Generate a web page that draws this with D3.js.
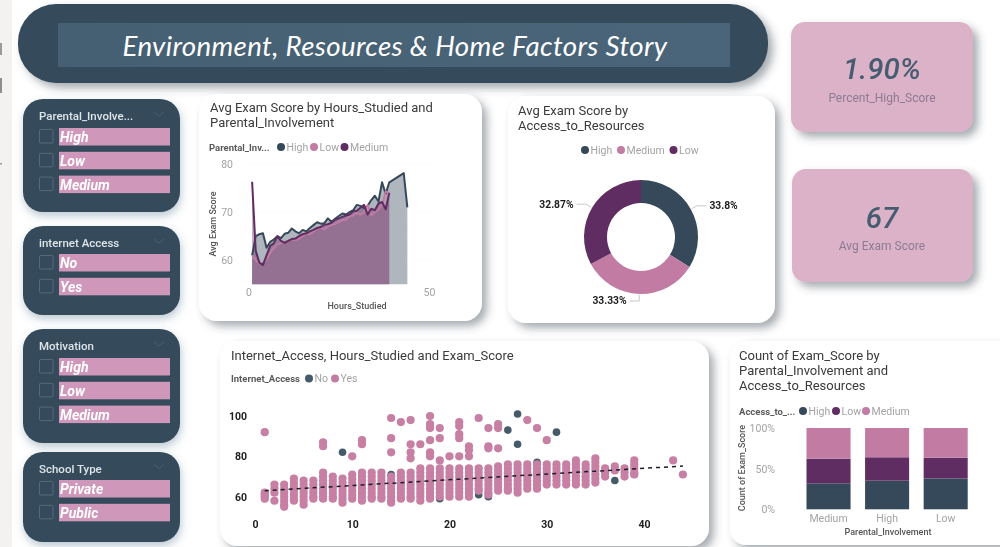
<!DOCTYPE html>
<html><head><meta charset="utf-8">
<script src="https://cdn.jsdelivr.net/npm/d3@7/dist/d3.min.js"></script>
<style>html,body{margin:0;padding:0;background:#fff;overflow:hidden}svg{display:block;filter:blur(.35px)}text{font-family:Roboto,sans-serif}</style>
</head><body><svg id="c" width="1000" height="547"></svg>
<script>
// ---------- data ----------
const dashTitle = "Environment, Resources & Home Factors Story";
const slicerTitles = ["Parental_Involve...", "internet Access", "Motivation", "School Type"];
const slicerItems = [["High","Low","Medium"],["No","Yes"],["High","Low","Medium"],["Private","Public"]];
const kpiValues = ["1.90%","67"];
const kpiLabels = ["Percent_High_Score","Avg Exam Score"];

const hours = [1,2,3,4,5,6,7,8,9,10,11,12,13,14,15,16,17,18,19,20,21,22,23,24,25,26,27,28,29,30,31,32,33,34,35,36,37,38,39,43,44];
const avgHigh = [61,65,65.4,65.6,62.6,63.8,64.3,65,64.6,65.5,65.7,66.6,66,65.6,66.3,66,66.7,67.3,67.9,67.6,67.7,68.7,68,68.6,69.2,69.7,69.5,70,70.4,71.5,71.3,70.8,71.3,72.5,73.4,72.2,76.2,73.8,76.2,78.1,71];
const hoursLow = hours.slice(0,39);
const avgLow = [61,60,59.3,59.4,60.2,61.5,62.5,63.3,63.6,63.8,64,64.3,64.2,64.5,65,65.5,65.4,66,66.5,66.8,66.4,67,67.3,67.5,68,68.3,68.4,69.2,69.3,69.8,69.5,69.9,71.5,69.3,70,70.5,71.5,74.3,74];
const avgMedium = [76.3,62,59.5,59,61,63,63.5,65,64,63.6,64,64.4,64.5,65,65.4,65.6,66,66.3,66.7,66.9,67.4,67.5,67.8,68.4,68.7,69,69.3,69.5,70.2,70.3,70.9,71.5,69.5,70.7,70.4,71.8,72.1,70.6,74];

const resourceNames = ["High","Medium","Low"];
const resourceShares = [33.8,33.33,32.87];

const scatterHoursNo = [9,14,19,23,24,26,27,27,29,31,37,39];
const scatterScoresNo = [82,71,59,61,60,93,101,86,77,92,68,71];
const scatterYes = [
 [1,[92,62,61,60,59]],
 [2,[66,64,62,58]],
 [3,[66,64,62,60,58,56,55]],
 [4,[69,67,65,63,61,59,58]],
 [5,[68,66,64,62,60,58,56]],
 [6,[68,66,64,62,60,59]],
 [7,[87,85,72,70,68,66,64,62,60,59]],
 [8,[70,68,66,64,62,60,59]],
 [9,[69,67,65,63,61,59,57]],
 [10,[80,71,69,67,65,63,61,59]],
 [11,[88,86,72,70,68,66,64,62,60,58]],
 [12,[72,70,68,66,64,62,60,59]],
 [13,[72,70,68,66,64,62,60,59]],
 [14,[99,89,82,70,68,66,64,62,60,58,57]],
 [15,[97,72,70,68,66,64,62,60,59]],
 [16,[98,86,82,79,72,70,68,66,64,62,60,59]],
 [17,[86,74,72,70,68,66,64,62,60,58]],
 [18,[100,96,94,88,82,80,74,72,70,68,66,64,62,60,59]],
 [19,[94,89,78,74,72,70,68,66,64,62,60]],
 [20,[80,74,72,70,68,66,64,62,60]],
 [21,[97,95,91,89,80,74,72,70,68,66,64,62,60]],
 [22,[85,83,80,74,72,70,68,66,64,62,60]],
 [23,[99,74,72,70,68,66,64,63]],
 [24,[94,85,84,74,72,70,68,66,64,62,61]],
 [25,[96,94,84,75,73,71,69,67,65,63]],
 [26,[76,74,72,70,68,66,64,63]],
 [27,[76,74,72,70,68,66,64,62]],
 [28,[98,76,74,72,70,68,66,64]],
 [29,[94,76,74,72,70,68,66,64]],
 [30,[88,76,74,72,70,68,66]],
 [31,[76,74,72,70,68,66]],
 [32,[76,74,72,70,68,66]],
 [33,[78,76,74,72,70,68,66]],
 [34,[76,74,72,70,68,66]],
 [35,[79,77,75,73,71,69,67]],
 [36,[74,72,70]],
 [37,[75,73]],
 [38,[74,72,70]],
 [39,[78,76,74,72,71]],
 [43,[78]],
 [44,[71]]
];
const trendHours = [1,44];
const trendScores = [63,75.2];

const barCategories = ["Medium","High","Low"];
const barKeys = ["High","Low","Medium"];
const barHigh = [32,35.2,38];
const barLow = [30.3,28.8,25.5];
const barMedium = [37.7,36,36.5];

// ---------- style and layout ----------
const dark="#36495a", pink="#c27ca3", purple="#602d62", scatterDark="#465b6a", pinkDot="#c77fa4";
const svg=d3.select("#c");
const defs=svg.append("defs");
const sh=defs.append("filter").attr("id","sh").attr("x","-20%").attr("y","-20%").attr("width","150%").attr("height","150%");
sh.append("feDropShadow").attr("dx",5).attr("dy",5).attr("stdDeviation",4).attr("flood-color","#3a4650").attr("flood-opacity",.45);
const sh2=defs.append("filter").attr("id","sh2").attr("x","-20%").attr("y","-20%").attr("width","150%").attr("height","150%");
sh2.append("feDropShadow").attr("dx",1).attr("dy",4).attr("stdDeviation",4).attr("flood-color","#56788f").attr("flood-opacity",.4);
const grad=defs.append("linearGradient").attr("id","tg");
grad.append("stop").attr("offset","0").attr("stop-color","#466073");
grad.append("stop").attr("offset","1").attr("stop-color","#4a6479");
const T=(x,y,s,o={})=>{const t=svg.append("text").attr("x",x).attr("y",y).text(s).attr("dominant-baseline","central")
  .attr("font-size",o.size||10).attr("fill",o.fill||"#999").attr("text-anchor",o.anchor||"start");
  if(o.weight)t.attr("font-weight",o.weight); if(o.italic)t.attr("font-style","italic");
  if(o.ls)t.attr("letter-spacing",o.ls); if(o.family)t.style("font-family",o.family);
  if(o.rot)t.attr("transform",`rotate(${o.rot} ${x} ${y})`); return t;};
const card=(x,y,w,h,r,f,fl="sh")=>svg.append("rect").attr("x",x).attr("y",y).attr("width",w).attr("height",h).attr("rx",r).attr("fill",f).attr("filter",`url(#${fl})`);
const legend=(items)=>items.forEach(d=>{svg.append("circle").attr("cx",d[0]).attr("cy",d[1]).attr("r",4).attr("fill",d[2]);
  T(d[0]+5.5,d[1],d[3],{size:10.5,fill:"#a3a3a3"});});
const styleAxis=(g,size,fill,weight)=>{g.select(".domain").remove();g.selectAll("line").remove();
  g.selectAll("text").attr("font-size",size).attr("fill",fill).attr("font-weight",weight||400).style("font-family","Roboto,sans-serif");};

// left strip
svg.append("rect").attr("width",12).attr("height",547).attr("fill","#f3f2f1");
svg.append("rect").attr("y",43).attr("width",2).attr("height",12).attr("fill","#9a9a9a");
svg.append("rect").attr("y",78).attr("width",2).attr("height",15).attr("fill","#8f8f8f");
svg.append("rect").attr("y",163).attr("width",2).attr("height",1.5).attr("fill","#999");

// title
card(18,4,750,79,38,"#354b5b");
svg.append("rect").attr("x",58).attr("y",23).attr("width",672).attr("height",44).attr("fill","url(#tg)");
T(395,45,dashTitle,{size:27.7,fill:"#fff",anchor:"middle",italic:true,family:"Lato,sans-serif",ls:.35});

// slicers
const slicerBoxes=[[99,113],[226,89],[329,114],[452,90]];
const slicerTops=[128,254,358,480];
const slicerHead=[116,243,346,468.5];
slicerTitles.forEach((t,i)=>{
  const [y,h]=slicerBoxes[i];
  card(23,y,157,h,20,"#354b5b","sh2");
  T(39,slicerHead[i],t,{size:11.5,fill:"#dfe5e9",weight:500});
  const cy=slicerHead[i]-2;
  svg.append("path").attr("d",`M154,${cy-2}L159,${cy+2}L164,${cy-2}`).attr("fill","none").attr("stroke","#4b6070").attr("stroke-width",1);
  slicerItems[i].forEach((s,j)=>{
    const top=slicerTops[i]+j*23.8;
    svg.append("rect").attr("x",39.5).attr("y",top+1.5).attr("width",13.5).attr("height",13.5).attr("rx",1).attr("fill","none").attr("stroke","#55697a").attr("stroke-width",1);
    svg.append("rect").attr("x",59).attr("y",top).attr("width",111).attr("height",17.5).attr("fill","#cf97b9");
    T(60,top+9,s,{size:14,fill:"#fff",weight:700,italic:true});
  });
});

// KPI
[[791,22,182,110],[792,169,181,113]].forEach((b,i)=>{
  card(b[0],b[1],b[2],b[3],14,"#dcb2c9");
  T(882,i?218:69,kpiValues[i],{size:29.5,fill:"#465c70",weight:500,italic:true,anchor:"middle"});
  T(882,i?246:98,kpiLabels[i],{size:12,fill:"#8c7b92",anchor:"middle"});
});

// ---------- area / line chart ----------
card(199,94,283,227,18,"#fff");
T(210,107,"Avg Exam Score by Hours_Studied and",{size:13,fill:"#3a3a3a"});
T(210,122,"Parental_Involvement",{size:13,fill:"#3a3a3a"});
T(209,147,"Parental_Inv...",{size:9.5,fill:"#5a5a5a",weight:700});
legend([[281,147,dark,"High"],[314,147,pink,"Low"],[344.5,147,purple,"Medium"]]);
const x1=d3.scaleLinear().domain([0,50]).range([248.5,429]);
const y1=d3.scaleLinear().domain([55,80]).range([284.3,164]);
[60,70,80].forEach(v=>svg.append("line").attr("x1",248).attr("x2",430).attr("y1",y1(v)).attr("y2",y1(v)).attr("stroke","#f4f4f4").attr("stroke-dasharray","1 3"));
const area1=d3.area().x(d=>x1(d[0])).y0(y1(55)).y1(d=>y1(d[1]));
const line1=d3.line().x(d=>x1(d[0])).y(d=>y1(d[1]));
const seriesChart=[[d3.zip(hours,avgHigh),dark],[d3.zip(hoursLow,avgLow),pink],[d3.zip(hoursLow,avgMedium),purple]];
seriesChart.forEach(s=>svg.append("path").attr("d",area1(s[0])).attr("fill",s[1]).attr("fill-opacity",.4));
seriesChart.forEach(s=>svg.append("path").attr("d",line1(s[0])).attr("fill","none").attr("stroke",s[1]).attr("stroke-width",2).attr("stroke-linejoin","round"));
styleAxis(svg.append("g").attr("transform","translate(0,284.3)").call(d3.axisBottom(x1).tickValues([0,50]).tickSize(0).tickPadding(4)),10.5,"#a3a3a3");
styleAxis(svg.append("g").attr("transform","translate(233,0)").call(d3.axisLeft(y1).tickValues([60,70,80]).tickSize(0).tickPadding(0)),10.5,"#a3a3a3");
T(213,224,"Avg Exam Score",{size:9,fill:"#555",weight:500,anchor:"middle",rot:-90});
T(357,306,"Hours_Studied",{size:9,fill:"#555",weight:500,anchor:"middle"});

// ---------- donut ----------
card(508,96,267,227,18,"#fff");
T(518,110,"Avg Exam Score by",{size:13,fill:"#3a3a3a"});
T(518,125,"Access_to_Resources",{size:13,fill:"#3a3a3a"});
legend([[585,150,dark,"High"],[621,150,pink,"Medium"],[673.5,150,purple,"Low"]]);
const donutColor=d3.scaleOrdinal().domain(resourceNames).range([dark,pink,purple]);
const pie=d3.pie().sort(null).value(d=>d[1])(d3.zip(resourceNames,resourceShares));
const arc=d3.arc().innerRadius(34).outerRadius(57);
const dg=svg.append("g").attr("transform","translate(641,237)");
dg.selectAll("path").data(pie).join("path").attr("d",arc).attr("fill",d=>donutColor(d.data[0]));
pie.forEach(d=>{
  const a=(d.startAngle+d.endAngle)/2, dir=Math.sin(a)>=0.05?1:-1;
  const px=r=>[r*Math.sin(a),-r*Math.cos(a)];
  const p0=px(58),p1=px(64),p2=[p1[0]+dir*9.5,p1[1]];
  dg.append("path").attr("d",d3.line()([p0,p1,p2])).attr("fill","none").attr("stroke","#c8c8c8").attr("stroke-width",1);
  dg.append("text").attr("x",p2[0]+dir*3).attr("y",p2[1]).text(d.data[1]+"%").attr("dominant-baseline","central")
    .attr("text-anchor",dir>0?"start":"end").attr("font-size",10.3).attr("font-weight",700).attr("fill","#1d1d1d");
});

// ---------- scatter ----------
card(220,341,489,205,18,"#fff");
T(231,355,"Internet_Access, Hours_Studied and Exam_Score",{size:13,fill:"#3a3a3a"});
T(231,378.5,"Internet_Access",{size:9.5,fill:"#5a5a5a",weight:700});
legend([[309,378.5,scatterDark,"No"],[335,378.5,pink,"Yes"]]);
const x2=d3.scaleLinear().domain([0,40]).range([255,644]);
const y2=d3.scaleLinear().domain([60,100]).range([496.7,416]);
d3.zip(scatterHoursNo,scatterScoresNo).forEach(d=>svg.append("circle").attr("cx",x2(d[0])).attr("cy",y2(d[1])).attr("r",3.8).attr("fill",scatterDark));
scatterYes.forEach(([h,scores])=>svg.append("g").selectAll("circle").data(scores).join("circle")
  .attr("cx",x2(h)).attr("cy",d=>y2(d)).attr("r",4.1).attr("fill",pinkDot));
svg.append("path").attr("d",d3.line().x(d=>x2(d[0])).y(d=>y2(d[1]))(d3.zip(trendHours,trendScores)))
  .attr("fill","none").attr("stroke","#1c1c2a").attr("stroke-width",1.5).attr("stroke-dasharray","4 4");
styleAxis(svg.append("g").attr("transform","translate(0,525)").call(d3.axisBottom(x2).tickValues([0,10,20,30,40]).tickSize(0).tickPadding(-4)),10.5,"#222",700);
styleAxis(svg.append("g").attr("transform","translate(247,0)").call(d3.axisLeft(y2).tickValues([60,80,100]).tickSize(0).tickPadding(0)),10.5,"#222",700);

// ---------- stacked bars ----------
card(730,341,290,204,16,"#fff");
T(739,355,"Count of Exam_Score by",{size:13,fill:"#3a3a3a"});
T(739,370,"Parental_Involvement and",{size:13,fill:"#3a3a3a"});
T(739,385,"Access_to_Resources",{size:13,fill:"#3a3a3a"});
T(739,411,"Access_to_...",{size:9.5,fill:"#5a5a5a",weight:700});
legend([[803,411,dark,"High"],[836,411,purple,"Low"],[866,411,pink,"Medium"]]);
const x3=d3.scaleBand().domain(barCategories).range([806.5,967.7]).paddingInner(.248).paddingOuter(0);
const y3=d3.scaleLinear().domain([0,100]).range([509.3,428]);
const barRows=barCategories.map((c,i)=>({cat:c,High:barHigh[i],Low:barLow[i],Medium:barMedium[i]}));
const stack=d3.stack().keys(barKeys)(barRows);
const barColor=d3.scaleOrdinal().domain(barKeys).range([dark,purple,pink]);
stack.forEach(layer=>svg.append("g").selectAll("rect").data(layer).join("rect")
  .attr("x",d=>x3(d.data.cat)).attr("width",x3.bandwidth()).attr("y",d=>y3(d[1])).attr("height",d=>y3(d[0])-y3(d[1])).attr("fill",barColor(layer.key)));
styleAxis(svg.append("g").attr("transform","translate(0,514.5)").call(d3.axisBottom(x3).tickSize(0).tickPadding(0)),10.5,"#a3a3a3");
styleAxis(svg.append("g").attr("transform","translate(775,0)").call(d3.axisLeft(y3).tickValues([0,50,100]).tickFormat(d=>d+"%").tickSize(0).tickPadding(0)),10.5,"#a3a3a3");
T(742,468,"Count of Exam_Score",{size:9,fill:"#555",weight:500,anchor:"middle",rot:-90});
T(888,532,"Parental_Involvement",{size:9,fill:"#555",weight:500,anchor:"middle"});
</script></body></html>
